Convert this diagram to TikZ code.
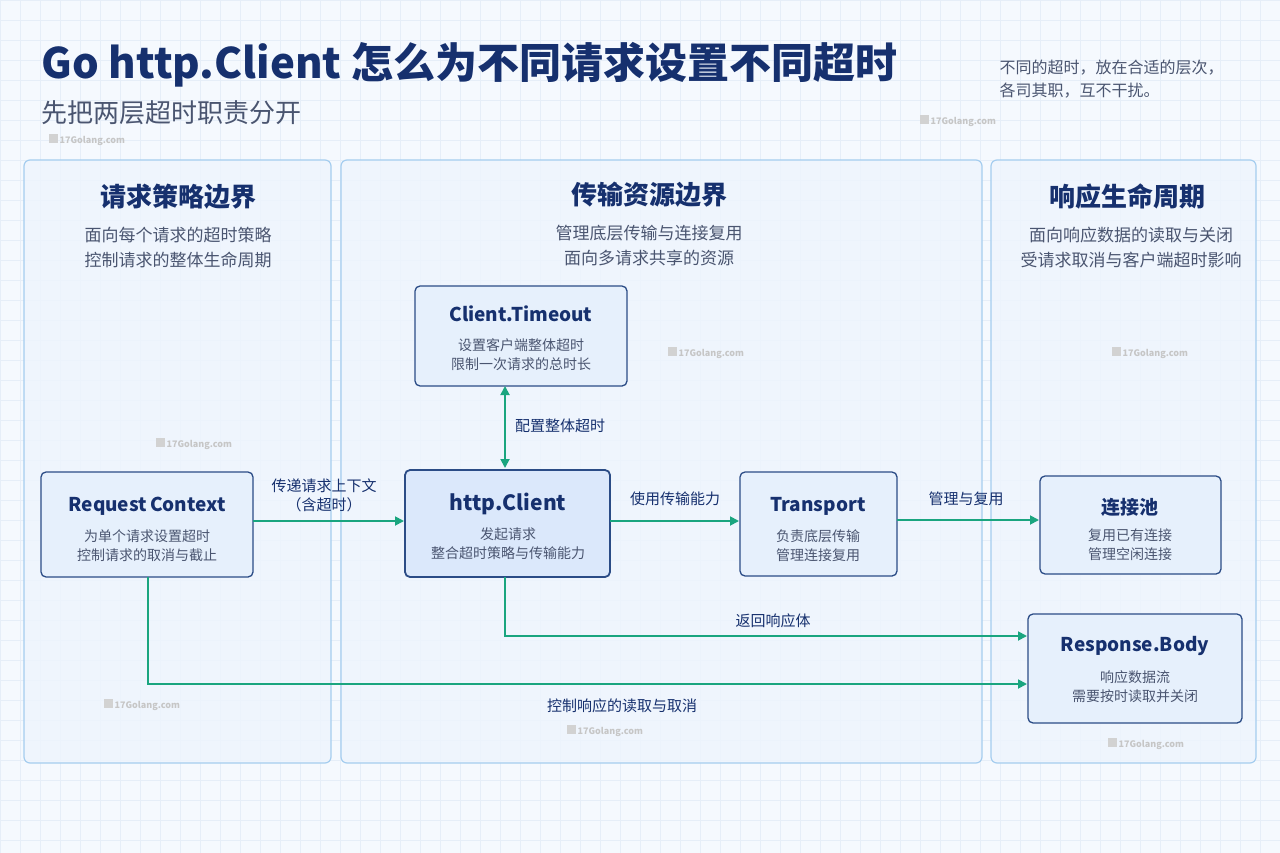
\documentclass[tikz,border=0pt]{standalone}
\usepackage{fontspec}
\setmainfont{Noto Sans CJK SC}
\usetikzlibrary{arrows.meta}
\definecolor{navy}{HTML}{16306E}
\definecolor{txt}{HTML}{4A5570}
\definecolor{pbord}{HTML}{A5CDEF}
\definecolor{pfill}{HTML}{EEF5FD}
\definecolor{bfill}{HTML}{E6F0FC}
\definecolor{bfill2}{HTML}{DBE8FB}
\definecolor{bbord}{HTML}{2B4C86}
\definecolor{grn}{HTML}{1AA57F}
\definecolor{gridc}{HTML}{E6EEF8}
\definecolor{bg}{HTML}{F5F9FE}
\tikzset{
 panel/.style={draw=pbord,line width=1.2pt,fill=pfill,fill opacity=0.85,rounded corners=6pt},
 box/.style={draw=bbord,line width=1.3pt,fill=bfill,rounded corners=5pt},
 ptitle/.style={font=\fontsize{26}{30}\selectfont\bfseries,text=navy},
 psub/.style={font=\fontsize{17}{25}\selectfont,text=txt,align=center},
 btitle/.style={font=\fontsize{19}{22}\selectfont\bfseries,text=navy},
 bsub/.style={font=\fontsize{14}{19}\selectfont,text=txt,align=center},
 arr/.style={draw=grn,line width=1.8pt,-{Triangle[length=9pt,width=9pt]}},
 lab/.style={font=\fontsize{15}{19}\selectfont,text=navy,align=center},
 wm/.style={font=\fontsize{9}{10}\selectfont\bfseries,text=gray!45}
}
\begin{document}
\begin{tikzpicture}[x=1pt,y=-1pt]
\useasboundingbox (0,0) rectangle (1280,853);
\fill[bg] (0,0) rectangle (1280,853);
\foreach \i in {0,20,...,1280} \draw[gridc,line width=0.5pt] (\i,0) -- (\i,853);
\foreach \j in {0,20,...,853} \draw[gridc,line width=0.5pt] (0,\j) -- (1280,\j);
\node[anchor=west,font=\fontsize{42}{48}\selectfont\bfseries,text=navy] (title) at (38,65) {Go http.Client 怎么为不同请求设置不同超时};
\node[anchor=west,font=\fontsize{26}{30}\selectfont,text=txt] (sub) at (38,113) {先把两层超时职责分开};
\node[anchor=north west,font=\fontsize{16}{23}\selectfont,text=txt,align=left] (note) at (996,56) {不同的超时，放在合适的层次，\\各司其职，互不干扰。};
\draw[panel] (24,160) rectangle (331,763);
\draw[panel] (341,160) rectangle (982,763);
\draw[panel] (991,160) rectangle (1256,763);
\node[ptitle] (t1) at (178,197) {请求策略边界};
\node[psub] (s1) at (178,248) {面向每个请求的超时策略\\控制请求的整体生命周期};
\node[ptitle] (t2) at (649,195) {传输资源边界};
\node[psub] (s2) at (649,246) {管理底层传输与连接复用\\面向多请求共享的资源};
\node[ptitle] (t3) at (1127,197) {响应生命周期};
\node[psub] (s3) at (1131,248) {面向响应数据的读取与关闭\\受请求取消与客户端超时影响};
% boxes
\draw[box] (415,286) rectangle (627,386); \node[btitle] at (521,314) {Client.Timeout}; \node[bsub] at (521,355) {设置客户端整体超时\\限制一次请求的总时长};
\draw[box] (41,472) rectangle (253,577); \node[btitle] at (147,506) {Request\,Context}; \node[bsub] at (147,546) {为单个请求设置超时\\控制请求的取消与截止};
\draw[box,line width=1.8pt,fill=bfill2] (405,470) rectangle (610,577); \node[btitle,font=\fontsize{21}{24}\selectfont\bfseries] at (508,504) {http.Client}; \node[bsub] at (508,544) {发起请求\\整合超时策略与传输能力};
\draw[box] (740,472) rectangle (897,576); \node[btitle] at (818,506) {Transport}; \node[bsub] at (818,546) {负责底层传输\\管理连接复用};
\draw[box] (1040,476) rectangle (1221,574); \node[btitle] at (1130,507) {连接池}; \node[bsub] at (1130,545) {复用已有连接\\管理空闲连接};
\draw[box] (1028,614) rectangle (1242,723); \node[btitle] at (1135,646) {Response.Body}; \node[bsub] at (1135,687) {响应数据流\\需要按时读取并关闭};
% arrows
\draw[arr,{Triangle[length=9pt,width=9pt]}-{Triangle[length=9pt,width=9pt]}] (505,386) -- (505,468);
\node[lab] at (560,426) {配置整体超时};
\draw[arr] (253,521) -- (404,521); \node[lab] at (324,495) {传递请求上下文\\（含超时）};
\draw[arr] (610,521) -- (739,521); \node[lab] at (675,499) {使用传输能力};
\draw[arr] (897,520) -- (1039,520); \node[lab] at (966,499) {管理与复用};
\draw[arr] (505,577) -- (505,636) -- (1027,636); \node[lab] at (773,621) {返回响应体};
\draw[arr] (148,577) -- (148,684) -- (1027,684); \node[lab] at (622,706) {控制响应的读取与取消};
% watermarks
\foreach \x/\y in {45/140,916/121,664/353,1108/353,152/444,100/705,563/731,1104/744}
 \node[wm,anchor=west] at (\x,\y) {\textcolor{gray!35}{\rule{9pt}{9pt}} 17Golang.com};
\end{tikzpicture}
\end{document}
